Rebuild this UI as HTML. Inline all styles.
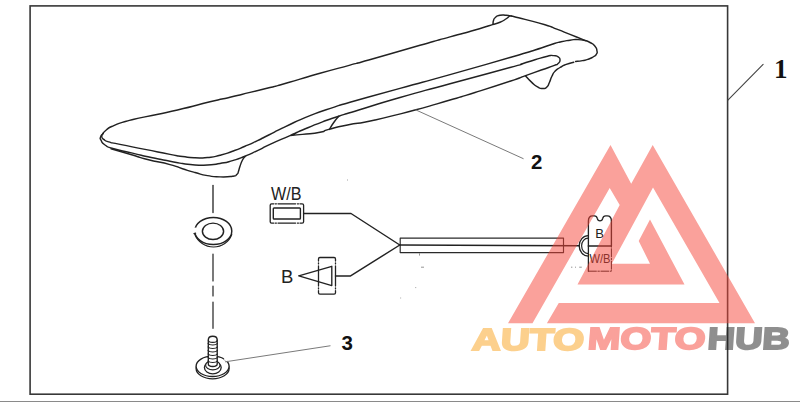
<!DOCTYPE html>
<html><head><meta charset="utf-8"><title>Spoiler parts diagram</title>
<style>
html,body{margin:0;padding:0;background:#fff;}
body{width:800px;height:402px;overflow:hidden;position:relative;font-family:"Liberation Sans",sans-serif;}
svg{position:absolute;left:0;top:0;display:block;}
.n{font-family:"Liberation Sans",sans-serif;font-weight:bold;fill:#111;}
.s{font-family:"Liberation Serif",serif;font-weight:bold;fill:#111;}
.wm{font-family:"Liberation Sans",sans-serif;font-weight:bold;}
.t{font-family:"Liberation Sans",sans-serif;font-weight:normal;fill:#222;}
</style></head><body>
<svg width="800" height="402" viewBox="0 0 800 402">
<rect x="0" y="0" width="800" height="402" fill="#fff"/>
<!-- frame -->
<rect x="30.1" y="5.9" width="697.5" height="388.3" fill="none" stroke="#383838" stroke-width="1.6"/>
<rect x="0" y="401" width="800" height="1" fill="#8a8a8a"/>
<!-- line art -->
<path d="M493.10,24.40 C487.07,26.27 489.37,25.83 475.00,30.00 C460.63,34.17 468.33,31.80 450.00,36.90 C431.67,42.00 447.08,37.60 420.00,45.30 C392.92,53.00 392.08,53.40 368.75,60.00 C345.42,66.60 366.25,60.67 350.00,65.10 C333.75,69.53 336.67,68.63 320.00,73.30 C303.33,77.97 313.33,75.20 300.00,79.10 C286.67,83.00 290.00,82.20 280.00,85.00 C270.00,87.80 280.00,85.03 270.00,87.50 C260.00,89.97 263.33,89.17 250.00,92.40 C236.67,95.63 243.33,94.07 230.00,97.20 C216.67,100.33 227.50,97.53 210.00,101.80 C192.50,106.07 199.17,104.97 177.50,110.00 C155.83,115.03 162.08,113.15 145.00,116.90 C127.92,120.65 136.67,118.35 126.25,121.25 C115.83,124.15 120.42,122.68 113.75,125.60 C107.08,128.52 110.00,127.07 106.25,130.00 C102.50,132.93 103.95,132.10 102.50,134.40 C101.05,136.70 101.48,135.23 101.90,136.90 C102.32,138.57 101.47,137.73 103.75,139.40 C106.03,141.07 103.33,140.23 108.75,141.90 C114.17,143.57 107.92,141.90 120.00,144.40 C132.08,146.90 128.33,146.07 145.00,149.40 C161.67,152.73 157.50,152.03 170.00,154.40 C182.50,156.77 174.17,155.38 182.50,156.50 C190.83,157.62 186.67,157.42 195.00,157.75 C203.33,158.08 199.17,158.33 207.50,157.50 C215.83,156.67 211.67,157.33 220.00,155.25 C228.33,153.17 224.17,154.25 232.50,151.25 C240.83,148.25 236.67,149.80 245.00,146.25 C253.33,142.70 249.58,144.35 257.50,140.60 C265.42,136.85 259.58,139.57 268.75,135.00 C277.92,130.43 271.25,133.37 285.00,126.90 C298.75,120.43 293.33,122.27 310.00,115.60 C326.67,108.93 321.67,111.33 335.00,106.90 C348.33,102.47 328.33,108.47 350.00,102.30 C371.67,96.13 366.67,97.63 400.00,88.40 C433.33,79.17 413.33,84.90 450.00,74.60 C486.67,64.30 481.67,65.70 510.00,57.50 C538.33,49.30 521.67,54.17 535.00,50.00 C548.33,45.83 541.67,47.67 550.00,45.00 C558.33,42.33 553.33,43.60 560.00,42.00 C566.67,40.40 564.00,41.00 570.00,40.20 C576.00,39.40 572.67,39.40 578.00,39.60 C583.33,39.80 583.33,40.40 586.00,40.80" fill="none" stroke="#222" stroke-width="1.45" stroke-linecap="round" stroke-linejoin="round" />
<path d="M493.10,24.40 C493.23,23.13 492.67,22.98 493.50,20.60 C494.33,18.22 493.43,19.03 495.60,17.25 C497.77,15.47 496.45,15.92 500.00,15.25 C503.55,14.58 502.50,15.00 506.25,15.25 C510.00,15.50 509.58,15.75 511.25,16.00" fill="none" stroke="#222" stroke-width="1.45" stroke-linecap="round" stroke-linejoin="round" />
<path d="M493.10,24.40 C495.40,23.68 495.62,24.13 500.00,22.25 C504.38,20.37 503.08,20.83 506.25,18.75 C509.42,16.67 508.42,16.92 509.50,16.00" fill="none" stroke="#222" stroke-width="1.45" stroke-linecap="round" stroke-linejoin="round" />
<path d="M511.25,16.00 C515.83,17.13 513.75,16.47 525.00,19.40 C536.25,22.33 534.17,21.47 545.00,24.80 C555.83,28.13 549.17,26.20 557.50,29.40 C565.83,32.60 561.67,31.07 570.00,34.40 C578.33,37.73 575.83,36.70 582.50,39.40 C589.17,42.10 585.83,40.22 590.00,42.50 C594.17,44.78 592.70,43.55 595.00,46.25 C597.30,48.95 596.40,48.02 596.90,50.60 C597.40,53.18 597.55,52.03 596.50,54.00 C595.45,55.97 596.33,54.83 593.75,56.50 C591.17,58.17 592.50,57.63 588.75,59.00 C585.00,60.37 586.88,59.77 582.50,60.60 C578.12,61.43 577.90,61.20 575.60,61.50" fill="none" stroke="#222" stroke-width="1.45" stroke-linecap="round" stroke-linejoin="round" />
<path d="M573.75,62.25 C571.25,62.97 570.83,62.65 566.25,64.40 C561.67,66.15 563.75,65.22 560.00,67.50 C556.25,69.78 557.70,68.33 555.00,71.25 C552.30,74.17 553.77,72.50 551.90,76.25 C550.03,80.00 551.07,78.95 549.40,82.50 C547.73,86.05 549.00,84.90 546.90,86.90 C544.80,88.90 546.23,88.50 543.10,88.50 C539.97,88.50 541.45,89.10 537.50,86.90 C533.55,84.70 535.22,85.53 531.25,81.90 C527.28,78.27 527.48,77.97 525.60,76.00" fill="none" stroke="#222" stroke-width="1.45" stroke-linecap="round" stroke-linejoin="round" />
<path d="M103.30,133.30 C102.40,134.50 101.28,134.47 100.60,136.90 C99.92,139.33 99.78,137.90 101.25,140.60 C102.72,143.30 100.83,142.28 105.00,145.00 C109.17,147.72 104.58,146.05 113.75,148.75 C122.92,151.45 120.00,150.18 132.50,153.10 C145.00,156.02 138.75,154.78 151.25,157.50 C163.75,160.22 159.58,159.25 170.00,161.25 C180.42,163.25 174.17,162.25 182.50,163.50 C190.83,164.75 186.67,164.50 195.00,165.00 C203.33,165.50 199.17,165.50 207.50,165.00 C215.83,164.50 211.67,164.97 220.00,163.50 C228.33,162.03 224.17,163.02 232.50,160.60 C240.83,158.18 236.67,159.58 245.00,156.25 C253.33,152.92 249.17,154.55 257.50,150.60 C265.83,146.65 259.17,149.40 270.00,144.40 C280.83,139.40 279.17,140.40 290.00,135.60 C300.83,130.80 291.67,134.57 302.50,130.00 C313.33,125.43 310.42,126.48 322.50,121.90 C334.58,117.32 326.67,120.22 338.75,116.25 C350.83,112.28 338.33,116.25 358.75,110.00 C379.17,103.75 369.58,106.25 400.00,97.50 C430.42,88.75 413.33,93.75 450.00,83.75 C486.67,73.75 485.83,74.17 510.00,67.50 C534.17,60.83 514.17,66.33 522.50,63.75 C530.83,61.17 526.67,62.25 535.00,59.75 C543.33,57.25 541.25,57.63 547.50,56.25 C553.75,54.87 550.22,55.38 553.75,55.60 C557.28,55.82 556.02,55.43 558.10,56.90 C560.18,58.37 560.00,57.80 560.00,60.00 C560.00,62.20 560.18,61.63 558.10,63.50 C556.02,65.37 559.37,63.43 553.75,65.60 C548.13,67.77 550.63,66.67 541.25,70.00 C531.87,73.33 536.02,71.85 525.60,75.60 C515.18,79.35 526.87,75.62 510.00,81.25 C493.13,86.88 495.00,86.25 475.00,92.50 C455.00,98.75 470.00,94.17 450.00,100.00 C430.00,105.83 440.00,103.33 415.00,110.00 C390.00,116.67 397.50,115.00 375.00,120.00 C352.50,125.00 362.92,121.87 347.50,125.00 C332.08,128.13 337.92,126.98 328.75,129.40 C319.58,131.82 328.75,130.58 320.00,132.25 C311.25,133.92 312.50,133.28 302.50,134.40 C292.50,135.52 294.17,135.20 290.00,135.60" fill="none" stroke="#222" stroke-width="1.45" stroke-linecap="round" stroke-linejoin="round" />
<path d="M338.75,116.25 C337.08,118.33 336.87,118.12 333.75,122.50 C330.63,126.88 330.85,127.10 329.40,129.40" fill="none" stroke="#222" stroke-width="1.45" stroke-linecap="round" stroke-linejoin="round" />
<path d="M111.00,148.75 C118.17,150.83 120.33,151.42 132.50,155.00 C144.67,158.58 135.00,156.30 147.50,159.50 C160.00,162.70 158.33,161.52 170.00,164.60 C181.67,167.68 174.17,166.12 182.50,168.75 C190.83,171.38 186.67,170.22 195.00,172.50 C203.33,174.78 199.17,174.13 207.50,175.60 C215.83,177.07 211.67,176.68 220.00,176.90 C228.33,177.12 226.87,177.08 232.50,176.25 C238.13,175.42 234.90,176.07 236.90,174.40 C238.90,172.73 237.47,173.97 238.50,171.25 C239.53,168.53 238.67,170.00 240.00,166.25 C241.33,162.50 240.83,163.25 242.50,160.00 C244.17,156.75 244.17,157.67 245.00,156.50" fill="none" stroke="#222" stroke-width="1.45" stroke-linecap="round" stroke-linejoin="round" />
<path d="M213,185.5 V212.5" fill="none" stroke="#222" stroke-width="1.3" stroke-linecap="round" stroke-linejoin="round" />
<path d="M213,254 V281 M213,286 V296 M213,302 V328.3" fill="none" stroke="#222" stroke-width="1.2" stroke-linecap="round" stroke-linejoin="round" />
<ellipse cx="213.3" cy="231" rx="18.5" ry="13.6" fill="#fff" stroke="#222" stroke-width="1.45"/>
<ellipse cx="213" cy="231.3" rx="10.6" ry="8.2" fill="#fff" stroke="#222" stroke-width="1.45"/>
<path d="M194.8,234.5 C198,242 205,247 213.5,247 C222,247 229,242 231.8,234.5" fill="none" stroke="#222" stroke-width="1.1" stroke-linecap="round" stroke-linejoin="round" />
<rect x="193" y="227.6" width="3.2" height="5.6" fill="#fff"/>
<path d="M194.0,233.6 L195.6,233.1" fill="none" stroke="#222" stroke-width="1.3" stroke-linecap="round" stroke-linejoin="round" />
<ellipse cx="212.6" cy="368.6" rx="16.5" ry="10.2" fill="#fff" stroke="#222" stroke-width="1.3"/>
<ellipse cx="212.6" cy="366.3" rx="16.5" ry="10.2" fill="#fff" stroke="#222" stroke-width="1.35"/>
<ellipse cx="212.8" cy="367.6" rx="8.4" ry="6.2" fill="#fff" stroke="#222" stroke-width="1.3"/>
<ellipse cx="212.8" cy="365.2" rx="7.2" ry="4.6" fill="#fff" stroke="#222" stroke-width="1.2"/>
<path d="M208.3,364 V340 C208.3,335 217.2,335 217.2,340 V364 C217.2,367.3 208.3,367.3 208.3,364Z" fill="#fff" stroke="#222" stroke-width="1.35"/>
<path d="M208.3,340 C208.3,343.2 217.2,343.2 217.2,340" fill="none" stroke="#222" stroke-width="1.1" stroke-linecap="round" stroke-linejoin="round" />
<path d="M208.1,343.5 C209.5,345.5 216,345.5 217.4,343.5" fill="none" stroke="#222" stroke-width="1.2" stroke-linecap="round" stroke-linejoin="round" />
<path d="M208.1,347.0 C209.5,349.0 216,349.0 217.4,347.0" fill="none" stroke="#222" stroke-width="1.2" stroke-linecap="round" stroke-linejoin="round" />
<path d="M208.1,350.5 C209.5,352.5 216,352.5 217.4,350.5" fill="none" stroke="#222" stroke-width="1.2" stroke-linecap="round" stroke-linejoin="round" />
<path d="M208.1,354.0 C209.5,356.0 216,356.0 217.4,354.0" fill="none" stroke="#222" stroke-width="1.2" stroke-linecap="round" stroke-linejoin="round" />
<path d="M208.1,357.5 C209.5,359.5 216,359.5 217.4,357.5" fill="none" stroke="#222" stroke-width="1.2" stroke-linecap="round" stroke-linejoin="round" />
<path d="M208.1,361.0 C209.5,363.0 216,363.0 217.4,361.0" fill="none" stroke="#222" stroke-width="1.2" stroke-linecap="round" stroke-linejoin="round" />
<path d="M224.3,358.2 L227.2,361" stroke="#fff" stroke-width="2.2" fill="none"/>
<path d="M273.8,203.8 H271.6 Q270.2,203.8 270.2,205.2 V221.7 Q270.2,223.1 271.6,223.1 H273.8 M300,203.8 H302.2 Q303.6,203.8 303.6,205.2 V221.7 Q303.6,223.1 302.2,223.1 H300 M275.3,203.8 h1.1 M278,203.8 H295.6 M297.4,203.8 h1.1 M275.3,223.1 h1.1 M278,223.1 H295.6 M297.4,223.1 h1.1" fill="none" stroke="#222" stroke-width="1.3" stroke-linecap="round" stroke-linejoin="round" />
<rect x="273.3" y="208" width="27.1" height="11" rx="0.8" fill="none" stroke="#222" stroke-width="1.4"/>
<path d="M303.60,213.50 L351.00,213.50 L399.80,245.00" fill="none" stroke="#222" stroke-width="1.45" stroke-linecap="round" stroke-linejoin="round" />
<path d="M318.5,261 V258.9 Q318.5,257.5 319.9,257.5 H334.1 Q335.5,257.5 335.5,258.9 V261 M318.5,290.6 V292.7 Q318.5,294.1 319.9,294.1 H334.1 Q335.5,294.1 335.5,292.7 V290.6 M318.5,262.8 v1.1 M318.5,265.8 V286 M318.5,287.8 v1.1 M335.5,262.8 v1.1 M335.5,265.8 V286 M335.5,287.8 v1.1" fill="none" stroke="#222" stroke-width="1.3" stroke-linecap="round" stroke-linejoin="round" />
<path d="M298.80,275.80 L331.80,266.30 L331.80,285.60 L298.80,275.80" fill="none" stroke="#222" stroke-width="1.35" stroke-linecap="round" stroke-linejoin="round" />
<path d="M335.50,275.90 L350.60,275.90 L399.80,245.00" fill="none" stroke="#222" stroke-width="1.45" stroke-linecap="round" stroke-linejoin="round" />
<path d="M400.2,238.1 H563.5 V252.6 H400.2 Z" fill="none" stroke="#2a2a2a" stroke-width="1.15" stroke-linecap="round" stroke-linejoin="round" />
<path d="M400,245 L579.3,245.85" fill="none" stroke="#222" stroke-width="1.5" stroke-linecap="round" stroke-linejoin="round" />
<path d="M588.2,235.6 A9,10.25 0 0 0 588.2,256.1" fill="none" stroke="#222" stroke-width="1.35" stroke-linecap="round" stroke-linejoin="round" />
<path d="M588.2,238.1 A6.6,7.75 0 0 0 588.2,253.6" fill="none" stroke="#222" stroke-width="1.2" stroke-linecap="round" stroke-linejoin="round" />
<path d="M588.4,246 V221 Q588.4,215.8 592.6,215.8 H594.3 Q596.8,215.8 597.2,218.2 Q597.8,220.9 600,220.9 Q602.2,220.9 602.8,218.2 Q603.2,215.8 605.7,215.8 H607.2 Q611.4,215.8 611.4,221 V246" fill="none" stroke="#222" stroke-width="1.35" stroke-linecap="round" stroke-linejoin="round" />
<path d="M588.4,246 H611.4" fill="none" stroke="#222" stroke-width="1.35" stroke-linecap="round" stroke-linejoin="round" />
<path d="M588.4,246 V271.2" fill="none" stroke="#222" stroke-width="1.3" stroke-linecap="round" stroke-linejoin="round" />
<path d="M588.4,271.2 H611.4 V246" fill="none" stroke="#222" stroke-width="1.0" stroke-linecap="round" stroke-linejoin="round" stroke-dasharray="8 1.5 1.5 1.5"/>
<path d="M416,110 L523.2,158.6" fill="none" stroke="#7a7a7a" stroke-width="1.0" stroke-linecap="round" stroke-linejoin="round" />
<path d="M225.4,361.8 L330.1,345.8" fill="none" stroke="#7a7a7a" stroke-width="1.0" stroke-linecap="round" stroke-linejoin="round" />
<path d="M727.9,100.1 L763.1,64.4" fill="none" stroke="#444" stroke-width="1.1" stroke-linecap="round" stroke-linejoin="round" />
<text class="t" x="271" y="200.4" font-size="17.5" textLength="30.5" lengthAdjust="spacingAndGlyphs">W/B</text>
<text class="t" x="281" y="282.8" font-size="18.5">B</text>
<text class="t" x="595.3" y="238.1" font-size="13">B</text>
<text class="t" x="589.5" y="262.8" font-size="12.2" textLength="21" lengthAdjust="spacingAndGlyphs">W/B</text>
<path d="M419.5,253.2 V255.6 M421,267.2 H424 M415.3,287.6 h0.9 M400.3,298 h0.8 M571,267.2 h1.4 M575,267.2 h1 M579.2,267.2 h2.6 M347,180 h0.9" fill="none" stroke="#8a8a8a" stroke-width="0.9"/>
<!-- labels -->
<text class="s" x="780.8" y="78" font-size="27" text-anchor="middle">1</text>
<text class="n" x="536.6" y="169" font-size="20.4" text-anchor="middle">2</text>
<text class="n" x="347.3" y="350" font-size="20.5" text-anchor="middle">3</text>
<!-- watermark -->
<g opacity="0.5">
<path d="M508.00,323.20 L610.50,145.00 L631.20,183.80 L652.70,145.00 L755.00,323.20 L546.90,323.20 L558.75,303.10 L719.50,303.10 L653.00,187.50 L611.80,263.80 L650.00,263.80 L638.70,241.00 L650.00,219.50 L684.50,284.50 L577.50,284.50 L619.70,205.00 L609.70,188.00 L532.50,323.20Z" fill="#F44336"/>
<text class="wm" transform="translate(0 350.20) skewX(-4) translate(0 -350.20)" x="707" y="349.2" font-size="30.5" textLength="82" lengthAdjust="spacingAndGlyphs" fill="#1e1e1e" stroke="#1e1e1e" stroke-width="2.0" stroke-linejoin="miter">HUB</text>
<text class="wm" transform="translate(0 350.80) skewX(-4) translate(0 -350.80)" x="471.5" y="349.8" font-size="30.5" textLength="112" lengthAdjust="spacingAndGlyphs" fill="#F9A01B" stroke="#F9A01B" stroke-width="2.0" stroke-linejoin="miter">AUTO</text>
<text class="wm" transform="translate(0 350.50) skewX(-4) translate(0 -350.50)" x="586.8" y="349.5" font-size="30.5" textLength="118" lengthAdjust="spacingAndGlyphs" fill="#F44336" stroke="#F44336" stroke-width="2.0" stroke-linejoin="miter">MOTO</text>
</g>
<path d="M587.0,325.5 H590.4 L588.2,351.5 H587.0Z" fill="#fff"/>
</svg>
</body></html>
